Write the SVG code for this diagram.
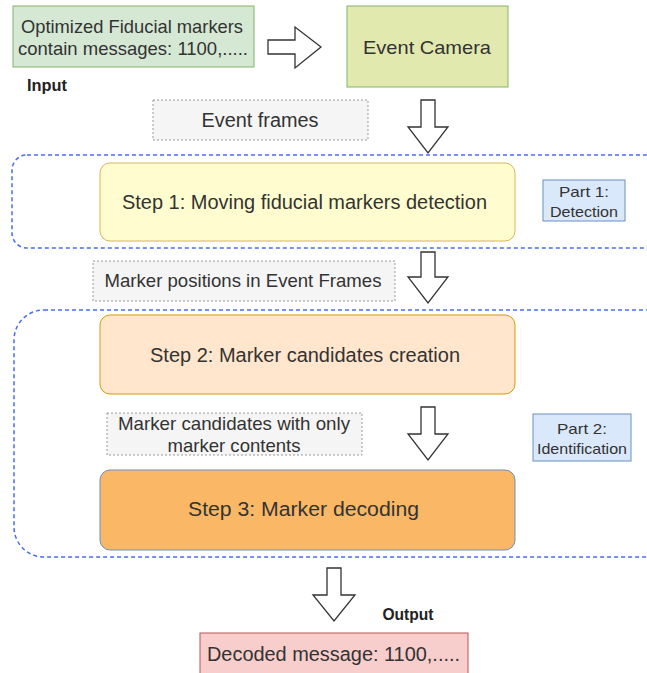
<svg xmlns="http://www.w3.org/2000/svg" width="647" height="673" viewBox="0 0 647 673">
<style>
text{font-family:"Liberation Sans",Arial,sans-serif;fill:#333;text-anchor:middle;dominant-baseline:central}
.t19{font-size:19px}
.t20{font-size:20px}
.t15{font-size:15px}
.b{font-weight:bold;font-size:16px;fill:#222}
.note{fill:#f5f5f5;stroke:#999;stroke-dasharray:2 2;stroke-width:1}
.cont{fill:none;stroke:#4a6cf0;stroke-dasharray:4 3;stroke-width:1.5}
.arr{fill:#fff;stroke:#333;stroke-width:1.3;stroke-linejoin:miter}
.part{fill:#dae8fc;stroke:#6c8ebf}
</style>
<rect width="647" height="673" fill="#fff"/>
<g id="containers">
<rect class="cont" x="12" y="155" width="700" height="93" rx="15"/>
<rect class="cont" x="14" y="310" width="700" height="247" rx="30"/>
</g>
<g id="input">
<rect x="13" y="6" width="241" height="61" fill="#d5e8d4" stroke="#82b366"/>
<text class="t19" x="132" y="26" textLength="222" lengthAdjust="spacingAndGlyphs">Optimized Fiducial markers</text>
<text class="t19" x="133" y="48" textLength="230" lengthAdjust="spacingAndGlyphs">contain messages: 1100,.....</text>
<text class="b" x="47" y="85" textLength="40" lengthAdjust="spacingAndGlyphs">Input</text>
</g>
<g id="camera">
<rect x="347" y="6" width="161" height="81" fill="#e1e9ae" stroke="#82b366"/>
<text class="t19" x="427" y="47" textLength="128" lengthAdjust="spacingAndGlyphs">Event Camera</text>
</g>
<g id="eventframes">
<rect class="note" x="153" y="100" width="215" height="40"/>
<text class="t20" x="260" y="120" textLength="117" lengthAdjust="spacingAndGlyphs">Event frames</text>
</g>
<g id="step1">
<rect x="100" y="163" width="415" height="78" rx="10" fill="#fffdd0" stroke="#d6b656"/>
<text class="t20" x="304.5" y="202" textLength="365" lengthAdjust="spacingAndGlyphs">Step 1: Moving fiducial markers detection</text>
</g>
<g id="part1">
<rect class="part" x="543" y="180" width="82" height="41"/>
<text class="t15" x="584" y="191" textLength="50" lengthAdjust="spacingAndGlyphs">Part 1:</text>
<text class="t15" x="584" y="211" textLength="68" lengthAdjust="spacingAndGlyphs">Detection</text>
</g>
<g id="positions">
<rect class="note" x="93" y="261" width="302" height="40"/>
<text class="t19" x="243" y="280" textLength="277" lengthAdjust="spacingAndGlyphs">Marker positions in Event Frames</text>
</g>
<g id="step2">
<rect x="100" y="315" width="415" height="79" rx="10" fill="#ffe6cc" stroke="#d79b00"/>
<text class="t20" x="305" y="355" textLength="310" lengthAdjust="spacingAndGlyphs">Step 2: Marker candidates creation</text>
</g>
<g id="candidates">
<rect class="note" x="107" y="413" width="255" height="42"/>
<text class="t19" x="234" y="423" textLength="232" lengthAdjust="spacingAndGlyphs">Marker candidates with only</text>
<text class="t19" x="234" y="445" textLength="133" lengthAdjust="spacingAndGlyphs">marker contents</text>
</g>
<g id="part2">
<rect class="part" x="533" y="414" width="98" height="47"/>
<text class="t15" x="582" y="428" textLength="50" lengthAdjust="spacingAndGlyphs">Part 2:</text>
<text class="t15" x="582" y="448" textLength="90" lengthAdjust="spacingAndGlyphs">Identification</text>
</g>
<g id="step3">
<rect x="100" y="470" width="415" height="80" rx="10" fill="#fab866" stroke="#6c8ebf"/>
<text class="t20" x="303.5" y="509" textLength="231" lengthAdjust="spacingAndGlyphs">Step 3: Marker decoding</text>
</g>
<g id="output">
<text class="b" x="408" y="614" textLength="51" lengthAdjust="spacingAndGlyphs">Output</text>
<rect x="200" y="633" width="268" height="45" fill="#f8cecc" stroke="#b85450"/>
<text class="t20" x="333.5" y="654" textLength="253" lengthAdjust="spacingAndGlyphs">Decoded message: 1100,.....</text>
</g>
<g id="connectors">
<path class="arr" d="M268,40 L295,40 L295,27 L321,47 L295,68 L295,54 L268,54 Z"/>
<path class="arr" d="M421,100 L435,100 L435,127 L448,127 L428,153 L408,127 L421,127 Z"/>
<path class="arr" d="M421,252 L435,252 L435,277 L448,277 L428,303 L408,277 L421,277 Z"/>
<path class="arr" d="M421,407 L435,407 L435,434 L448,434 L428,460 L408,434 L421,434 Z"/>
<path class="arr" d="M327,568 L341,568 L341,595 L355,595 L334,621 L313,595 L327,595 Z"/>
</g>
</svg>
